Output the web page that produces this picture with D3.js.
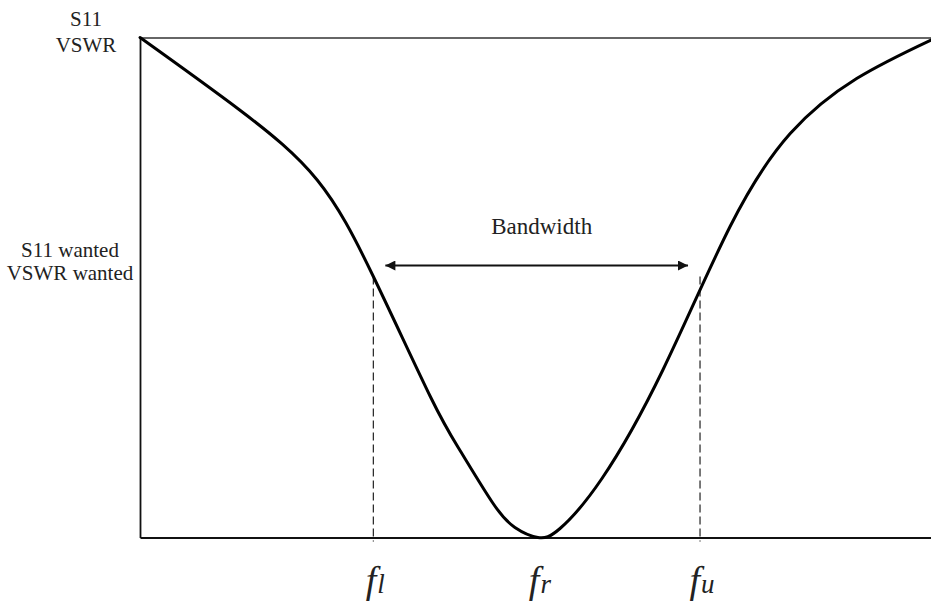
<!DOCTYPE html>
<html>
<head>
<meta charset="utf-8">
<script src="https://cdn.jsdelivr.net/npm/d3@7"></script>
<style>
  html, body { margin: 0; padding: 0; background: #fff; }
  svg { display: block; }
  text { font-family: "Liberation Serif", "Times New Roman", serif; fill: #222; }
</style>
</head>
<body>
<svg id="chart" width="931" height="610"></svg>
<script>
// ---- data (normalized frequency 0..10, normalized S11/VSWR 0..1) ----
const freq = [0, 1.26, 2.24, 2.95, 3.67, 4.05, 4.46, 4.74, 5.03, 5.31, 5.84, 6.61, 7.46, 8.22, 9.06, 10];
const s11  = [1.0, 0.855, 0.715, 0.522, 0.282, 0.173, 0.069, 0.020, 0.0, 0.018, 0.118, 0.335, 0.622, 0.808, 0.918, 0.995];

const xTickValues = [2.95, 5.03, 7.08];          // f_l, f_r, f_u
const xTickMain   = ["f", "f", "f"];
const xTickSub    = ["l", "r", "u"];
const wantedLevel = 0.522;
const yLabelsTop    = ["S11", "VSWR"];
const yLabelsWanted = ["S11 wanted", "VSWR wanted"];
const bandwidthLabel = "Bandwidth";

// ---- layout ----
const svg = d3.select("#chart");
const plotLeft = 140, plotRight = 931, plotTop = 37.5, plotBottom = 537.5;

const x = d3.scaleLinear().domain([0, 10]).range([plotLeft, plotRight]);
const y = d3.scaleLinear().domain([0, 1]).range([plotBottom, plotTop]);

// arrow markers
const defs = svg.append("defs");
defs.append("marker").attr("id", "arrowEnd")
  .attr("viewBox", "0 0 10 10").attr("refX", 10).attr("refY", 5)
  .attr("markerWidth", 6).attr("markerHeight", 5).attr("markerUnits", "strokeWidth")
  .attr("orient", "auto")
  .append("path").attr("d", "M0,0 L10,5 L0,10 Z").attr("fill", "#111");
defs.append("marker").attr("id", "arrowStart")
  .attr("viewBox", "0 0 10 10").attr("refX", 0).attr("refY", 5)
  .attr("markerWidth", 6).attr("markerHeight", 5).attr("markerUnits", "strokeWidth")
  .attr("orient", "auto")
  .append("path").attr("d", "M10,0 L0,5 L10,10 Z").attr("fill", "#111");

// top border
svg.append("g").attr("transform", `translate(0,${plotTop})`)
  .call(d3.axisTop(x).tickValues([]).tickSizeOuter(0))
  .call(g => g.select(".domain").attr("stroke", "#333").attr("stroke-width", 1.6));

// bottom axis
svg.append("g").attr("transform", `translate(0,${plotBottom})`)
  .call(d3.axisBottom(x).tickValues([]).tickSizeOuter(0))
  .call(g => g.select(".domain").attr("stroke", "#111").attr("stroke-width", 1.8));

// left axis
svg.append("g").attr("transform", `translate(${plotLeft},0)`)
  .call(d3.axisLeft(y).tickValues([]).tickSizeOuter(0))
  .call(g => g.select(".domain").attr("stroke", "#111").attr("stroke-width", 1.8));

// dashed verticals at f_l and f_u
svg.selectAll("line.drop").data([xTickValues[0], xTickValues[2]]).enter()
  .append("line").attr("class", "drop")
  .attr("x1", d => x(d)).attr("x2", d => x(d))
  .attr("y1", y(wantedLevel)).attr("y2", plotBottom + 4)
  .attr("stroke", "#222").attr("stroke-width", 1.2)
  .attr("stroke-dasharray", "8,4");

// curve
const pts = freq.map((f, i) => [f, s11[i]]);
svg.append("path").datum(pts)
  .attr("fill", "none").attr("stroke", "#000").attr("stroke-width", 3)
  .attr("stroke-linejoin", "round").attr("stroke-linecap", "round")
  .attr("d", d3.line().x(d => x(d[0])).y(d => y(d[1])).curve(d3.curveNatural));

// bandwidth arrow
const ay = y(wantedLevel) - 11;
svg.append("line")
  .attr("x1", x(xTickValues[0]) + 12).attr("x2", x(xTickValues[2]) - 12)
  .attr("y1", ay).attr("y2", ay)
  .attr("stroke", "#111").attr("stroke-width", 2)
  .attr("marker-start", "url(#arrowStart)").attr("marker-end", "url(#arrowEnd)");

svg.append("text")
  .attr("x", (x(xTickValues[0]) + x(xTickValues[2])) / 2 + 5)
  .attr("y", 234)
  .attr("text-anchor", "middle").attr("font-size", 23)
  .text(bandwidthLabel);

// y labels
svg.append("text").attr("text-anchor", "middle").attr("font-size", 21)
  .selectAll("tspan").data(yLabelsTop).enter().append("tspan")
  .attr("x", 86).attr("y", (d, i) => 26 + i * 26).text(d => d);

svg.append("text").attr("text-anchor", "middle").attr("font-size", 21)
  .selectAll("tspan").data(yLabelsWanted).enter().append("tspan")
  .attr("x", 70).attr("y", (d, i) => 257 + i * 23).text(d => d);

// x tick labels: italic f with subscript letter
const tl = svg.selectAll("text.xtick").data(xTickValues).enter()
  .append("text").attr("class", "xtick")
  .attr("x", d => x(d) + 2).attr("y", 593)
  .attr("text-anchor", "middle").attr("font-style", "italic").attr("fill", "#111");
tl.append("tspan").attr("font-size", 38).text((d, i) => xTickMain[i]);
tl.append("tspan").attr("font-size", 27).attr("dx", 1).text((d, i) => xTickSub[i]);
</script>
</body>
</html>
